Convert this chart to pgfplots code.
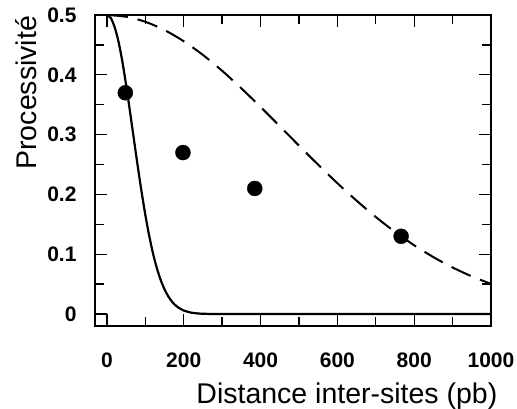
\documentclass[border=0pt]{standalone}
\usepackage{fontspec}
\setmainfont{Liberation Sans}
\usepackage{pgfplots}
\pgfplotsset{compat=1.18}
\begin{document}
\begin{tikzpicture}
\path[use as bounding box] (-95pt,-82pt) rectangle (422pt,326pt);
\begin{axis}[
  at={(0pt,0pt)}, anchor=south west,
  scale only axis, width=396pt, height=311pt,
  xmin=-31, xmax=1000, ymin=-0.02, ymax=0.5,
  xtick={0,200,400,600,800,1000}, minor xtick={100,300,500,700,900},
  ytick={0,0.1,0.2,0.3,0.4,0.5}, minor ytick={0.05,0.15,0.25,0.35,0.45},
  tick align=inside, major tick length=12pt, minor tick length=9pt,
  axis line style={line width=1.4pt},
  tick style={line width=1.3pt, black},
  tick label style={font=\fontsize{21}{24}\selectfont\bfseries},
  /pgf/number format/assume math mode=true,
  /pgf/number format/1000 sep={},
  scaled ticks=false,
  xticklabel={\raisebox{0pt}[38pt][0pt]{\pgfmathprintnumber{\tick}}},
  yticklabel={\pgfmathprintnumber{\tick}\hspace*{15pt}},
  xlabel={Distance inter-sites (pb)},
  ylabel={Processivité},
  label style={font=\fontsize{28.5}{32}\selectfont},
  xlabel style={at={(axis description cs:1.025,-0.248)}, anchor=base east},
  ylabel style={at={(axis description cs:-0.148,0.75)}, anchor=base},
]
% solid curve
\addplot[black, line width=2.2pt, smooth] coordinates {
(0,0.5) (10,0.4950) (20,0.4800) (30,0.4560) (40,0.4230) (50,0.3830)
(60,0.3390) (70,0.2935) (80,0.2485) (90,0.2055) (100,0.1660) (110,0.1312)
(120,0.1014) (130,0.0769) (140,0.0570) (150,0.0413) (160,0.0293) (170,0.0203)
(180,0.0138) (190,0.0092) (200,0.0059) (220,0.0023) (240,0.0008) (260,0.0003)
(300,0) (400,0) (600,0) (800,0) (1000,0)
};
% dashed curve
\addplot[black, line width=2pt, smooth, dash pattern=on 21pt off 10pt] coordinates {
(0,0.5) (50,0.4971) (100,0.4887) (150,0.4748) (200,0.4561) (250,0.4332)
(300,0.4067) (350,0.3774) (400,0.3463) (450,0.3141) (500,0.2817) (550,0.2497)
(600,0.2188) (650,0.1896) (700,0.1623) (750,0.1374) (800,0.1150) (850,0.0952)
(900,0.0779) (950,0.0630) (1000,0.0504)
};
% data points
\addplot[only marks, mark=*, mark size=7.5pt, black] coordinates {
(48,0.37) (198,0.27) (385,0.21) (766,0.13)
};
\end{axis}
\end{tikzpicture}
\end{document}
